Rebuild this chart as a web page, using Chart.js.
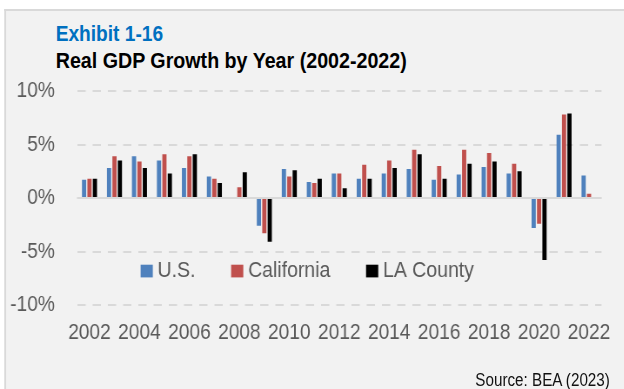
<!DOCTYPE html>
<html>
<head>
<meta charset="utf-8">
<script src="https://cdn.jsdelivr.net/npm/chart.js@4.4.1/dist/chart.umd.min.js"></script>
<style>
  html, body { margin: 0; padding: 0; background: #fff; }
  #wrap { position: relative; width: 624px; height: 389px; overflow: hidden; }
  /* the source picture is horizontally squeezed, so draw wide and squeeze it */
  #stage {
    position: absolute; left: 0; top: 0; width: 717px; height: 389px;
    transform: scaleX(0.87); transform-origin: 0 0;
    font-family: "Liberation Sans", Arial, sans-serif;
  }
  #panel {
    position: absolute; left: 5px; top: 9px; right: -20px; bottom: -20px;
    background: #f2f2f2; border-top: 2px solid #d9d9d9; border-left: 2px solid #d9d9d9;
  }
  .exhibit { position: absolute; left: 64px; top: 21px; font-size: 22px; line-height: 26px; font-weight: bold; color: #0070c0; white-space: nowrap; }
  .title { position: absolute; left: 64px; top: 48px; font-size: 22.6px; line-height: 26px; font-weight: bold; color: #000; white-space: nowrap; }
  .source { position: absolute; right: 16px; top: 370px; font-size: 17.5px; line-height: 20px; color: #111; white-space: nowrap; }
  #chartBox { position: absolute; left: 0; top: 0; width: 717px; height: 389px; }
</style>
</head>
<body>
<div id="wrap">
  <div id="stage">
    <div id="panel"></div>
    <div class="exhibit">Exhibit 1-16</div>
    <div class="title">Real GDP Growth by Year (2002-2022)</div>
    <div id="chartBox"><canvas id="chart"></canvas></div>
    <div class="source">Source: BEA (2023)</div>
  </div>
</div>
<script>
const years = ["2002", "2003", "2004", "2005", "2006", "2007", "2008", "2009", "2010", "2011",
  "2012", "2013", "2014", "2015", "2016", "2017", "2018", "2019", "2020", "2021", "2022"];

// annual real GDP growth, percent
const usGrowth = [1.7, 2.8, 3.9, 3.5, 2.8, 2.0, 0.1, -2.6, 2.7, 1.5, 2.3, 1.8, 2.3, 2.7, 1.7, 2.2, 2.9, 2.3, -2.8, 5.9, 2.1];
const caGrowth = [1.8, 3.9, 3.4, 4.1, 3.9, 1.8, 1.0, -3.3, 2.0, 1.4, 2.3, 3.1, 3.5, 4.5, 3.0, 4.5, 4.2, 3.2, -2.4, 7.8, 0.4];
const laGrowth = [1.8, 3.5, 2.8, 2.3, 4.1, 1.4, 2.4, -4.1, 2.6, 1.8, 0.9, 1.8, 2.8, 4.1, 1.8, 3.2, 3.4, 2.5, -5.8, 7.9, 0.1];

const yMin = -10;
const yMax = 10;
const yStep = 5;

const tickFont = { family: '"Liberation Sans", Arial, sans-serif', size: 22 };

// solid zero line drawn under the bars
const zeroLine = {
  id: "zeroLine",
  beforeDatasetsDraw(chart) {
    const { ctx, chartArea } = chart;
    const y = chart.scales.y.getPixelForValue(0);
    ctx.save();
    ctx.strokeStyle = "#d9d9d9";
    ctx.lineWidth = 2;
    ctx.beginPath();
    ctx.moveTo(chartArea.left, y);
    ctx.lineTo(chartArea.right, y);
    ctx.stroke();
    ctx.restore();
  },
};

// legend sits inside the plot, under the zero line
const insideLegend = {
  id: "insideLegend",
  afterDatasetsDraw(chart) {
    const ctx = chart.ctx;
    ctx.save();
    ctx.font = '22.4px "Liberation Sans", Arial, sans-serif';
    ctx.textBaseline = "middle";
    let x = 161.6;
    const y = 271;
    chart.data.datasets.forEach((ds) => {
      ctx.fillStyle = ds.backgroundColor;
      ctx.fillRect(x, y - 6.3, 14, 12.7);
      x += 19.5;
      ctx.fillStyle = "#595959";
      ctx.fillText(ds.label, x, y);
      x += ctx.measureText(ds.label).width + 41;
    });
    ctx.restore();
  },
};

new Chart(document.getElementById("chart"), {
  type: "bar",
  data: {
    labels: years,
    datasets: [
      { label: "U.S.", data: usGrowth, backgroundColor: "#4f81bd" },
      { label: "California", data: caGrowth, backgroundColor: "#c0504d" },
      { label: "LA County", data: laGrowth, backgroundColor: "#000000" },
    ],
  },
  options: {
    responsive: true,
    maintainAspectRatio: false,
    animation: false,
    layout: { padding: { top: 91, right: 20.5, bottom: 0, left: 0 } },
    datasets: { bar: { categoryPercentage: 0.65, barPercentage: 0.78, borderWidth: 0 } },
    plugins: {
      legend: { display: false },
      tooltip: { enabled: false },
    },
    scales: {
      x: {
        grid: { display: false, drawTicks: false },
        border: { display: false },
        ticks: {
          autoSkip: false,
          maxRotation: 0,
          padding: 15,
          color: "#595959",
          font: tickFont,
          // only every other year is labelled
          callback: (v, i) => (i % 2 === 0 ? years[i] : ""),
        },
        afterFit: (s) => { s.height = 84; },
      },
      y: {
        min: yMin,
        max: yMax,
        grid: { color: "#d9d9d9", lineWidth: 2, drawTicks: false, borderDash: [9.5, 8] },
        border: { display: false, dash: [9.5, 8] },
        ticks: {
          stepSize: yStep,
          padding: 25.5,
          color: "#595959",
          font: tickFont,
          callback: (v) => v + "%",
        },
        afterFit: (s) => { s.width = 88.5; },
      },
    },
  },
  plugins: [zeroLine, insideLegend],
});
</script>
</body>
</html>
